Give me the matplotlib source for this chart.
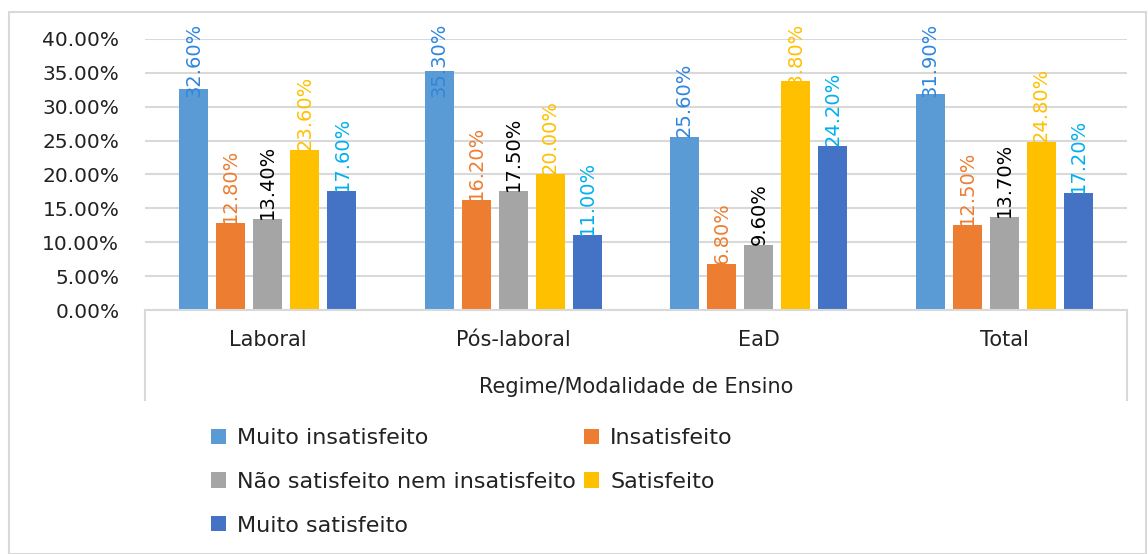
import matplotlib.pyplot as plt
import numpy as np
from matplotlib.patches import Rectangle
from matplotlib.lines import Line2D

categorias = ['Laboral', 'Pós-laboral', 'EaD', 'Total']
series = ['Muito insatisfeito', 'Insatisfeito', 'Não satisfeito nem insatisfeito',
          'Satisfeito', 'Muito satisfeito']
muito_insat = [32.6, 35.3, 25.6, 31.9]
insat = [12.8, 16.2, 6.8, 12.5]
nem_nem = [13.4, 17.5, 9.6, 13.7]
satisf = [23.6, 20.0, 33.8, 24.8]
muito_satisf = [17.6, 11.0, 24.2, 17.2]
valores = [muito_insat, insat, nem_nem, satisf, muito_satisf]

cores = ['#5B9BD5', '#ED7D31', '#A5A5A5', '#FFC000', '#4472C4']
cores_rot = ['#2E86DE', '#ED7D31', '#000000', '#FFC000', '#00B0F0']

W, H = 1148, 554
fig = plt.figure(figsize=(W / 100, H / 100), dpi=100)
ax = fig.add_axes([145 / W, 1 - 310 / H, (1127 - 145) / W, (310 - 39) / H])

# moldura exterior
fig.patches.append(Rectangle((9 / W, 0.5 / H), (1146 - 9) / W, (H - 12 - 0.5) / H,
                             transform=fig.transFigure, fill=False, ec='#d9d9d9', lw=1.5))

x = np.arange(len(categorias))
larg = 0.118
passo = 0.151
barras = []
for i, vals in enumerate(valores):
    b = ax.bar(x + (i - 2) * passo, vals, width=larg, color=cores[i], label=series[i], zorder=2)
    barras.append(b)

ax.set_xlim(-0.5, 3.5)
ax.set_ylim(0, 40)
ax.set_yticks(np.arange(0, 41, 5))
ax.set_yticklabels(['%.2f%%' % v for v in np.arange(0, 41, 5)], fontsize=14.5, color='#222222')
ax.yaxis.grid(True, color='#d9d9d9', lw=1.5, zorder=0)
ax.set_xticks([])
ax.tick_params(axis='y', length=0, pad=18.5)
for s in ['top', 'right', 'left']:
    ax.spines[s].set_visible(False)
ax.spines['bottom'].set_color('#d9d9d9')
ax.spines['bottom'].set_linewidth(1.5)

# tabela do eixo x
for xp in [145, 1127]:
    fig.add_artist(Line2D([xp / W, xp / W], [1 - 310 / H, 1 - 400 / H],
                          transform=fig.transFigure, color='#d9d9d9', lw=1.5))
for i, c in enumerate(categorias):
    ax.text(x[i], -4.4, c, ha='center', va='center', fontsize=15, color='#222222')
fig.text((145 + 1127) / 2 / W, 1 - 387 / H, 'Regime/Modalidade de Ensino',
         ha='center', va='center', fontsize=15, color='#222222')

# rotulos de dados
fig.canvas.draw()
rend = fig.canvas.get_renderer()
px_por_unid = ax.transData.transform((0, 1))[1] - ax.transData.transform((0, 0))[1]
limite = (310 - 23) / px_por_unid
for i, vals in enumerate(valores):
    for j, v in enumerate(vals):
        t = ax.text(x[j] + (i - 2) * passo, v, '%.2f%%' % v, rotation=90, ha='center',
                    va='bottom', fontsize=14, color=cores_rot[i], clip_on=False, zorder=3)
        h = t.get_window_extent(rend).height / px_por_unid
        if v + h > limite:
            t.set_y(limite - h)

fig.legend(handles=[barras[0], barras[2], barras[4], barras[1], barras[3]],
           labels=[series[0], series[2], series[4], series[1], series[3]],
           ncol=2, loc='upper left', bbox_to_anchor=(191 / W, 1 - 408 / H),
           frameon=False, fontsize=16, handlelength=0.68, handleheight=0.68,
           handletextpad=0.5, labelspacing=1.07, columnspacing=0.35, labelcolor='#222222')

plt.savefig('out.png', dpi=100)
